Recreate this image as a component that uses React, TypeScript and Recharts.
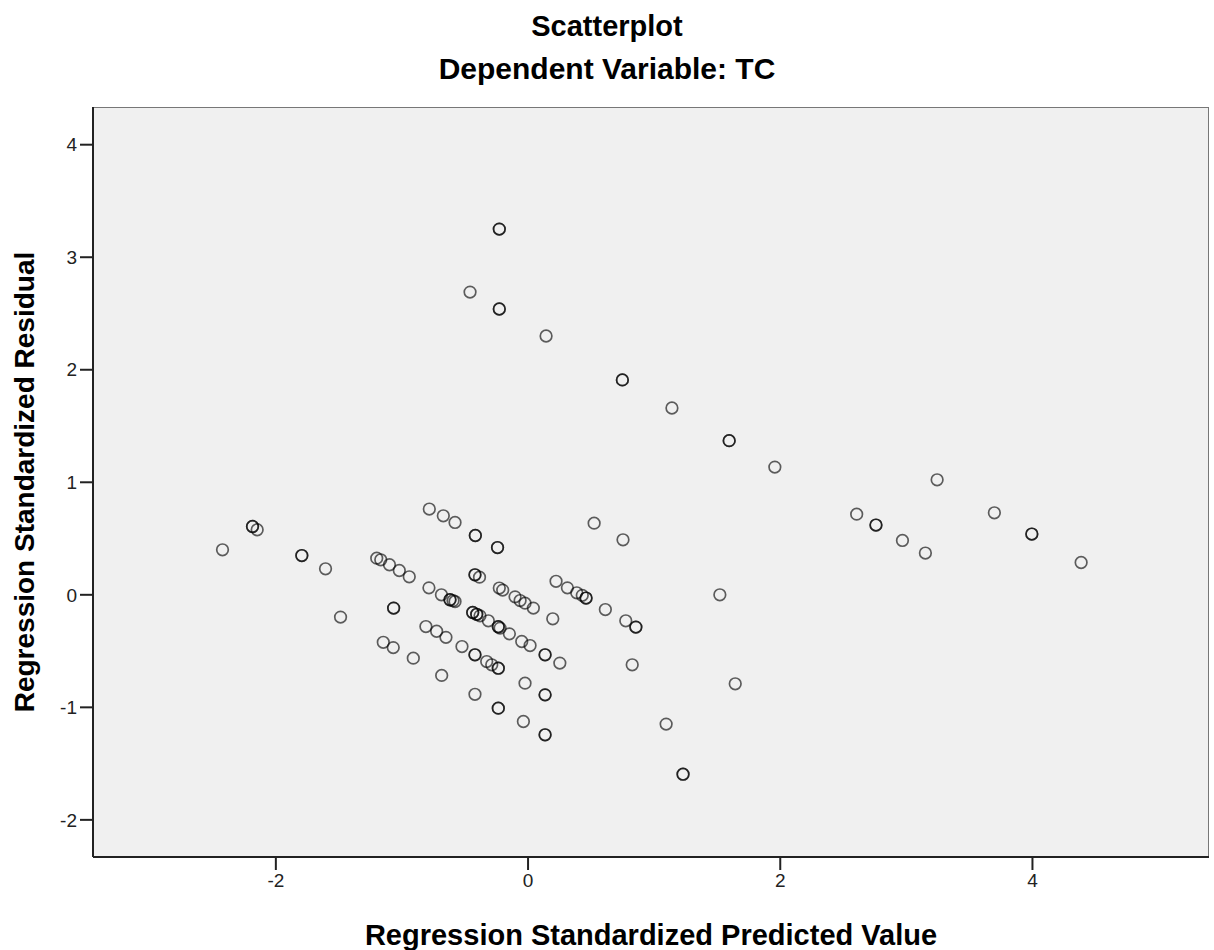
import { ScatterChart, Scatter, XAxis, YAxis, ReferenceArea } from "recharts";

// regression standardized predicted value (x) and residual (y), one entry per case
const predicted = [
  -0.228, -0.228, -0.46, -0.228, -0.228, 0.143, 0.748, 0.748, 1.141, 1.595, 1.595, 1.957,
  2.606, 2.759, 2.759, 2.969, 3.151, 3.244, 3.698, 3.995, 3.995, 4.386,
  0.524, 0.753, 1.521, 0.826, 1.643, 1.095, 1.229, 1.229,
  -2.423, -2.185, -2.185, -2.148, -1.794, -1.794, -1.606, -1.487, -1.066, -1.066,
  -0.783, -0.672, -0.579, -0.418, -0.418, -0.242, -0.242,
  -1.2, -1.168, -1.099, -1.021, -0.942, -0.786, -0.687, -0.619, -0.619, -0.595, -0.579,
  -0.421, -0.421, -0.385, -0.228, -0.201, -0.103, -0.063, -0.024, 0.042,
  0.222, 0.312, 0.386, 0.43, 0.46, 0.46, 0.613, 0.775, 0.855, 0.855, 0.196,
  -0.439, -0.439, -0.407, -0.407, -0.381, -0.315, -0.236, -0.236, -0.222, -0.148,
  -0.05, 0.016, 0.135, 0.135, 0.252,
  -0.81, -0.725, -0.651, -1.148, -1.069, -0.91, -0.524, -0.421, -0.421, -0.328, -0.288,
  -0.236, -0.236, -0.685, -0.421, -0.236, -0.236, -0.037, 0.135, 0.135, -0.024, 0.135, 0.135,
];

const residual = [
  3.25, 3.25, 2.69, 2.54, 2.54, 2.3, 1.91, 1.91, 1.66, 1.37, 1.37, 1.135,
  0.717, 0.62, 0.62, 0.483, 0.371, 1.022, 0.729, 0.54, 0.54, 0.287,
  0.637, 0.489, 0.0, -0.622, -0.791, -1.149, -1.594, -1.594,
  0.4, 0.607, 0.607, 0.578, 0.349, 0.349, 0.231, -0.198, -0.118, -0.118,
  0.762, 0.702, 0.643, 0.527, 0.527, 0.42, 0.42,
  0.326, 0.311, 0.267, 0.216, 0.16, 0.062, 0.0, -0.044, -0.044, -0.052, -0.06,
  0.178, 0.178, 0.157, 0.06, 0.042, -0.018, -0.051, -0.074, -0.118,
  0.12, 0.062, 0.018, -0.005, -0.029, -0.029, -0.131, -0.231, -0.287, -0.287, -0.213,
  -0.157, -0.157, -0.173, -0.173, -0.187, -0.231, -0.284, -0.284, -0.296, -0.347,
  -0.415, -0.451, -0.533, -0.533, -0.607,
  -0.282, -0.324, -0.378, -0.422, -0.469, -0.563, -0.46, -0.533, -0.533, -0.593, -0.622,
  -0.652, -0.652, -0.716, -0.884, -1.007, -1.007, -1.126, -1.244, -1.244, -0.785, -0.889, -0.889,
];

const xTicks = [-2, 0, 2, 4];
const yTicks = [-2, -1, 0, 1, 2, 3, 4];

const X_MIN = -3.45;
const X_MAX = 5.4;
const Y_MIN = -2.33;
const Y_MAX = 4.335;

const points = predicted.map((x, i) => ({ x, y: residual[i] }));

const FONT = "'Liberation Sans', Arial, sans-serif";

const Ring = (props: any) => (
  <circle
    cx={props.cx}
    cy={props.cy}
    r={5.8}
    fill="none"
    stroke="#000"
    strokeOpacity={0.62}
    strokeWidth={1.7}
  />
);

export default function App() {
  return (
    <div style={{ position: "absolute", left: 0, top: 0, width: 1214, height: 950, background: "#fff", fontFamily: FONT }}>
      <div style={{ position: "absolute", left: 0, width: 1214, top: 10, textAlign: "center", fontWeight: "bold", fontSize: 29, color: "#000" }}>
        Scatterplot
      </div>
      <div style={{ position: "absolute", left: 0, width: 1214, top: 52, textAlign: "center", fontWeight: "bold", fontSize: 30, color: "#000" }}>
        Dependent Variable: TC
      </div>
      <ScatterChart width={1214} height={950} margin={{ top: 107, right: 5, bottom: 0, left: 0 }}>
        <ReferenceArea
          x1={X_MIN}
          x2={X_MAX}
          y1={Y_MIN}
          y2={Y_MAX}
          fill="#f0f0f0"
          fillOpacity={1}
          stroke="#777"
          strokeWidth={2}
          ifOverflow="hidden"
        />
        <XAxis
          type="number"
          dataKey="x"
          domain={[X_MIN, X_MAX]}
          ticks={xTicks}
          allowDataOverflow
          height={93}
          tickSize={13}
          tickMargin={4}
          axisLine={{ stroke: "#222", strokeWidth: 2 }}
          tickLine={{ stroke: "#222", strokeWidth: 2 }}
          tick={{ fill: "#222", fontSize: 19, fontFamily: FONT }}
          label={{
            value: "Regression Standardized Predicted Value",
            position: "insideBottom",
            offset: 5,
            style: { fontWeight: "bold", fontSize: 29, fill: "#000", fontFamily: FONT },
          }}
        />
        <YAxis
          type="number"
          dataKey="y"
          domain={[Y_MIN, Y_MAX]}
          ticks={yTicks}
          allowDataOverflow
          width={93}
          tickSize={13}
          tickMargin={3}
          axisLine={{ stroke: "#222", strokeWidth: 2 }}
          tickLine={{ stroke: "#222", strokeWidth: 2 }}
          tick={{ fill: "#222", fontSize: 19, fontFamily: FONT }}
          label={{
            value: "Regression Standardized Residual",
            angle: -90,
            position: "insideLeft",
            offset: 24,
            style: { textAnchor: "middle", fontWeight: "bold", fontSize: 28, fill: "#000", fontFamily: FONT },
          }}
        />
        <Scatter data={points} shape={Ring} isAnimationActive={false} />
      </ScatterChart>
    </div>
  );
}
